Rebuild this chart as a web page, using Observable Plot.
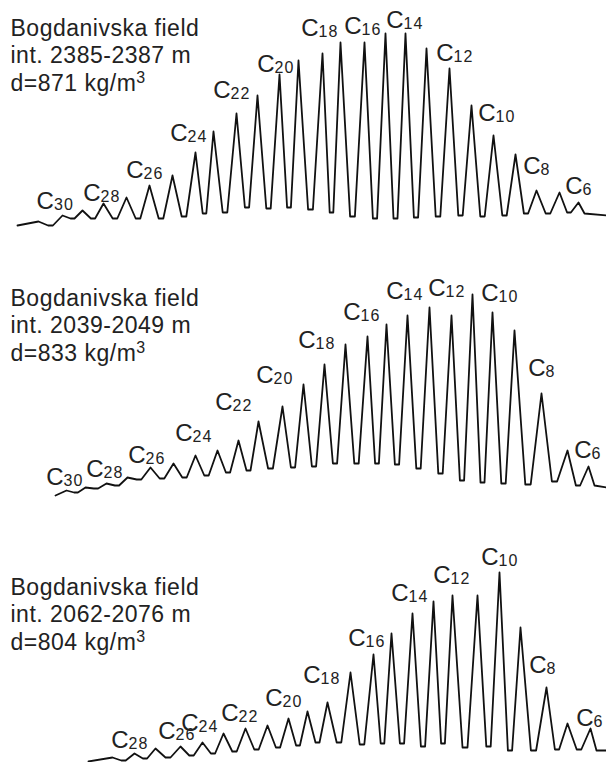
<!DOCTYPE html>
<html><head><meta charset="utf-8">
<script src="https://cdn.jsdelivr.net/npm/d3@7"></script>
<script src="https://cdn.jsdelivr.net/npm/@observablehq/plot@0.6"></script>
<style>
html,body{margin:0;padding:0;background:#fff;}
#chart{width:606px;}
#chart svg{display:block;background:#fff;}
</style></head><body><div id="chart"></div>
<script>
// ---------- Panel 1: int. 2385-2387 m ----------
const title1 = "Bogdanivska field\nint. 2385-2387 m\nd=871 kg/m³";
const carbons1 = [31,30,29,28,27,26,25,24,23,22,21,20,19,18,17,16,15,14,13,12,11,10,9,8,7,6];
const rt1 = [28.4,27.2,26.2,25.15,24.0,22.85,21.7,20.55,19.65,18.5,17.45,16.35,15.4,14.2,13.3,12.1,11.05,10.05,9.0,7.85,6.75,5.65,4.55,3.5,2.35,1.4];
const peak1 = [33,39,44,51,57,69,79,102,123,141,159,180,194,201,212,212,221,221,206,186,149,119,100,64,62,52];
const valley1 = [29,29,36,36,36,36,36,38,41,42,47,46,47,45,42,38,36,36,37,38,39,38,39,41,41,42];
const start1 = [29.45, 29], after1 = 41, end1 = [0, 39];
const labC1 = [30,28,26,24,22,20,18,16,14,12,10,8,6];
const labRt1 = [27.63,25.3,23.15,20.95,18.8,16.6,14.4,12.25,10.15,7.65,5.55,3.3,1.2];
const labS1 = [46,54,77,114,157,183,219,221,227,194,134,81,61];

// ---------- Panel 2: int. 2039-2049 m ----------
const title2 = "Bogdanivska field\nint. 2039-2049 m\nd=833 kg/m³";
const carbons2 = [30,29,28,27,26,25,24,23,22,21,20,19,18,17,16,15,14,13,12,11,10,9,8,7,6];
const rt2 = [27.0,26.05,25.0,23.95,22.8,21.65,20.55,19.45,18.4,17.4,16.2,15.15,14.1,13.05,11.95,11.0,9.95,8.85,7.75,6.7,5.7,4.6,3.25,1.95,0.9];
const peak2 = [18,21,25,31,41,45,53,58,68,87,102,124,144,164,172,184,193,201,193,214,196,178,115,58,42];
const valley2 = [13,16,20,23,29,30,31,33,36,38,40,41,42,45,45,45,44,40,35,28,26,25,24,27,23];
const start2 = [27.55, 13], after2 = 23, end2 = [0, 21];
const labC2 = [30,28,26,24,22,20,18,16,14,12,10,8,6];
const labRt2 = [27.15,25.15,23.05,20.7,18.7,16.65,14.55,12.3,10.15,8.05,5.4,3.05,0.75];
const labS2 = [24,32,46,68,99,126,161,189,210,213,208,133,51];

// ---------- Panel 3: int. 2062-2076 m ----------
const title3 = "Bogdanivska field\nint. 2062-2076 m\nd=804 kg/m³";
const carbons3 = [28,27,26,25,24,23,22,21,20,19,18,17,16,15,14,13,12,11,10,9,8,7,6];
const rt3 = [24.7,23.6,22.55,21.3,20.2,19.15,18.05,16.95,15.9,14.95,13.95,12.8,11.65,10.75,9.7,8.65,7.7,6.45,5.35,4.3,3.0,1.95,0.8];
const peak3 = [5,9,14,16,20,29,34,37,44,51,60,90,108,129,149,161,167,167,190,135,75,39,34];
const valley3 = [1,2,4,5,7,9,11,13,15,17,20,20,18,19,19,16,19,15,16,12,12,13,13];
const start3 = [25.9, 1], after3 = 12, end3 = [0, 12];
const labC3 = [28,26,24,22,20,18,16,14,12,10,8,6];
const labRt3 = [23.9,21.55,20.4,18.4,16.2,14.3,12.05,9.9,7.8,5.4,3.0,0.65];
const labS3 = [15,24,32,42,57,80,117,162,180,198,90,37];

const FONT = "Liberation Sans, Arial, Helvetica, sans-serif";

function trace(rt, peak, valley, start, after, end) {
  const pts = [{rt: start[0], s: start[1]}];
  for (let i = 0; i < rt.length; i++) {
    if (i > 0) {
      const d = rt[i - 1] - rt[i];
      pts.push({rt: rt[i - 1] - 0.4 * d, s: valley[i]});
      pts.push({rt: rt[i - 1] - 0.6 * d, s: valley[i]});
    }
    pts.push({rt: rt[i], s: peak[i]});
  }
  pts.push({rt: rt[rt.length - 1] - 0.3, s: after});
  pts.push({rt: end[0], s: end[1]});
  return pts;
}

function panel(title, titleDy, rt, peak, valley, start, after, end, labC, labRt, labS) {
  const pts = trace(rt, peak, valley, start, after, end);
  const labels = labC.map((c, i) => ({c, rt: labRt[i], s: labS[i]}));
  const svg = Plot.plot({
    width: 606, height: 254, margin: 0,
    style: {fontFamily: FONT, background: "#fff"},
    x: {domain: [30.3, 0], axis: null},
    y: {domain: [0, 254], axis: null},
    marks: [
      Plot.line(pts, {x: "rt", y: "s", stroke: "#111", strokeWidth: 1.8}),
      Plot.text([title], {frameAnchor: "top-left", dx: 10, dy: titleDy, fontSize: 23, lineHeight: 1.2,
        lineAnchor: "top", textAnchor: "start", fill: "#222", fontFamily: FONT}),
      Plot.text(labels, {x: "rt", y: "s", text: () => "C", textAnchor: "end", lineAnchor: "bottom",
        fontSize: 24, fill: "#222", fontFamily: FONT}),
      Plot.text(labels, {x: "rt", y: "s", text: d => String(d.c), textAnchor: "start", lineAnchor: "bottom",
        dy: 1, fontSize: 16, fill: "#222", fontFamily: FONT})
    ]
  });
  const groups = svg.querySelectorAll('g[aria-label="text"]');
  if (groups[0]) {
    groups[0].style.letterSpacing = "0.5px";
    // render the "³" of kg/m³ as a raised, smaller 3 as in the figure
    groups[0].querySelectorAll("tspan").forEach(ts => {
      if (ts.textContent.includes("³")) {
        ts.textContent = ts.textContent.replace("³", "");
        const sup = document.createElementNS("http://www.w3.org/2000/svg", "tspan");
        sup.setAttribute("font-size", "16");
        sup.setAttribute("dy", "-8");
        sup.textContent = "3";
        ts.appendChild(sup);
      }
    });
  }
  if (groups[2]) groups[2].style.letterSpacing = "1.2px";
  return svg;
}

const root = document.getElementById("chart");
root.append(panel(title1, 15.4, rt1, peak1, valley1, start1, after1, end1, labC1, labRt1, labS1));
root.append(panel(title2, 31.4, rt2, peak2, valley2, start2, after2, end2, labC2, labRt2, labS2));
root.append(panel(title3, 66.4, rt3, peak3, valley3, start3, after3, end3, labC3, labRt3, labS3));
</script>
</body></html>
